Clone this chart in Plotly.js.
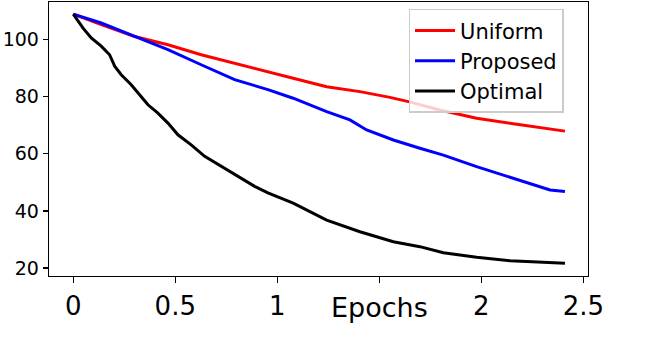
<!DOCTYPE html>
<html>
<head>
<meta charset="utf-8">
<script src="https://cdn.plot.ly/plotly-3.0.1.min.js"></script>
<style>
  html, body { margin: 0; padding: 0; background: #fff; }
  #myDiv { width: 658px; height: 347px; }
</style>
</head>
<body>
<div id="myDiv"></div>
<script>
// Values
const uniformEpochs = [0, 0.137, 0.301, 0.464, 0.627, 0.791, 0.954, 1.078, 1.242, 1.405, 1.552, 1.643, 1.797, 1.977, 2.174, 2.41];
const uniformLoss   = [108.8, 105.1, 101.0, 98.1, 94.6, 91.7, 88.8, 86.4, 83.4, 81.7, 79.7, 78.2, 75.3, 72.4, 70.3, 67.9];

const proposedEpochs = [0, 0.137, 0.301, 0.464, 0.627, 0.791, 0.954, 1.078, 1.242, 1.356, 1.438, 1.569, 1.699, 1.814, 1.977, 2.141, 2.337, 2.41];
const proposedLoss   = [108.8, 105.7, 101.0, 96.4, 91.1, 85.9, 82.4, 79.4, 74.7, 71.8, 68.3, 64.8, 61.9, 59.5, 55.5, 51.7, 47.3, 46.8];

const optimalEpochs = [0, 0.048, 0.088, 0.137, 0.178, 0.203, 0.235, 0.284, 0.325, 0.366, 0.415, 0.464, 0.513, 0.578, 0.644, 0.726, 0.807, 0.889, 0.954, 1.078, 1.242, 1.405, 1.569, 1.699, 1.814, 1.977, 2.141, 2.41];
const optimalLoss   = [108.8, 103.9, 100.5, 97.6, 94.6, 90.6, 87.6, 84.1, 80.6, 77.1, 74.2, 70.7, 66.6, 63.1, 59.1, 55.6, 52.1, 48.6, 46.3, 42.7, 36.8, 32.7, 29.2, 27.5, 25.4, 23.8, 22.6, 21.7];

const xTicks = [0, 0.5, 1, 1.5, 2, 2.5];
const xTickText = ['0', '0.5', '1', '', '2', '2.5'];   // 1.5 is hidden under "Epochs"
const yTicks = [20, 40, 60, 80, 100];

const font = 'DejaVu Sans, Verdana, sans-serif';

const data = [
    { x: uniformEpochs, y: uniformLoss, type: 'scatter', mode: 'lines', name: 'Uniform',
      line: { color: '#ff0000', width: 3 } },
    { x: proposedEpochs, y: proposedLoss, type: 'scatter', mode: 'lines', name: 'Proposed',
      line: { color: '#0000ff', width: 3 } },
    { x: optimalEpochs, y: optimalLoss, type: 'scatter', mode: 'lines', name: 'Optimal',
      line: { color: '#000000', width: 3 } }
];

const layout = {
    width: 658,
    height: 347,
    margin: { l: 49, r: 70, t: 2, b: 71 },
    paper_bgcolor: '#fff',
    plot_bgcolor: '#fff',
    font: { family: font, color: '#000' },
    showlegend: true,
    legend: {
        x: 0.667, y: 0.975, xanchor: 'left', yanchor: 'top',
        bgcolor: 'rgba(255,255,255,0.8)',
        bordercolor: '#cccccc', borderwidth: 1.5,
        font: { family: font, size: 21, color: '#000' },
        itemwidth: 40,
        tracegroupgap: 0
    },
    xaxis: {
        range: [-0.119, 2.523],
        tickmode: 'array', tickvals: xTicks, ticktext: xTickText,
        ticks: 'outside', ticklen: 6, tickwidth: 1.3, tickcolor: '#000',
        showline: true, linecolor: '#000', linewidth: 1.3, mirror: true,
        showgrid: false, zeroline: false,
        tickfont: { family: font, size: 26, color: '#000' }
    },
    yaxis: {
        range: [17.24, 113.04],
        tickmode: 'array', tickvals: yTicks,
        ticks: 'outside', ticklen: 5, tickwidth: 1.3, tickcolor: '#000',
        showline: true, linecolor: '#000', linewidth: 1.3, mirror: true,
        showgrid: false, zeroline: false,
        tickfont: { family: font, size: 19, color: '#000' }
    },
    annotations: [{
        text: 'Epochs', xref: 'x', x: 1.5, yref: 'paper', y: 0,
        xanchor: 'center', yanchor: 'middle', yshift: -31,
        showarrow: false,
        font: { family: font, size: 27, color: '#000' }
    }]
};

Plotly.newPlot('myDiv', data, layout, { staticPlot: true });
</script>
</body>
</html>
